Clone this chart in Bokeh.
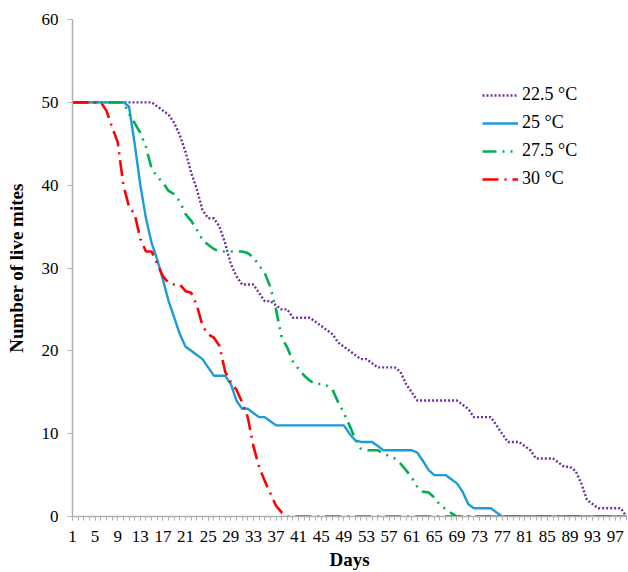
from bokeh.plotting import figure
from bokeh.models import Range1d, FixedTicker, Legend, LegendItem
from bokeh.embed import file_html
from bokeh.resources import INLINE

days = list(range(1, 100))
tick_labels = list(range(1, 98, 4))

t225 = ([50] * 15 +
        [49.5, 49, 48.5, 47.5, 46, 44, 41.5, 39.5, 37, 36, 36, 35, 33, 30.5, 29, 28, 28, 28,
         27, 26, 26, 25.5, 25, 25, 24, 24, 24, 24, 23.5, 23, 22.5, 22, 21, 20.5, 20, 19.5,
         19, 19, 18.5, 18, 18, 18, 18, 17.5, 16, 15] +
        [14] * 8 +
        [13.5, 13, 12, 12, 12, 12, 11, 10, 9, 9, 9, 8.5, 8, 7, 7, 7, 7, 6.5, 6, 6, 5.5, 4, 2, 1.5] +
        [1] * 5 + [0])

t25 = ([50] * 10 +
       [49.5, 45, 40, 36, 33, 31, 28.6, 26, 24, 22, 20.5, 20, 19.5, 19, 18, 17, 17, 17, 16, 14,
        13, 13, 12.5, 12, 12, 11.5] +
       [11] * 13 +
       [10, 9.2, 9, 9, 9, 8.5] +
       [8] * 6 +
       [7.7, 6.7, 5.6, 5, 5, 5, 4.5, 4, 3, 1.5] +
       [1] * 4 + [0.5] + [0] * 23)

t275 = ([50] * 10 +
        [48.6, 47.5, 46.3, 44.6, 42, 41, 40.3, 39.3, 38.9, 38, 36.5, 35.7, 34.6, 33.4, 32.8, 32.3] +
        [32] * 5 +
        [31.8, 31.3, 30.3, 29.4, 27.7, 25, 21.6, 20.4, 18.7, 17.8, 17, 16.4, 16, 16, 15.8, 15.3,
         13.8, 12.5, 11, 9.4, 8.2] +
        [8] * 3 +
        [7.6, 7.3, 7, 6.4, 5.6, 4.7, 3.6, 3, 2.9, 2.3, 1.4, 0.9, 0.4] +
        [0] * 31)

t30 = ([50] * 6 +
       [49, 47, 45.2, 40, 37.4, 36.5, 33.5, 32, 32, 30.5, 29, 28.2, 28, 28, 27.2, 27, 25.5, 23,
        22, 21.6, 20.6, 17.5, 16.2, 15.3, 13.8, 12, 8.5, 6, 4.3, 2.8, 1.3, 0.5] +
       [0] * 61)

series_names = ["22.5 °C", "25 °C", "27.5 °C", "30 °C"]
series_vals = [t225, t25, t275, t30]
colors = ["#7030A0", "#1C9BD9", "#00B050", "#FF0000"]
dashes = ["2 2", "solid", "14 6 2 6 2 6", "16 6 2 6"]
widths = [2.4, 2.4, 2.6, 2.6]

SERIF = "Liberation Serif"

p = figure(width=628, height=572, output_backend="svg", toolbar_location=None,
           x_range=Range1d(1, 99), y_range=Range1d(0, 60),
           min_border_left=72, min_border_right=2, min_border_top=19, min_border_bottom=54)
p.outline_line_color = None
p.xgrid.grid_line_color = None
p.ygrid.grid_line_color = None
p.background_fill_color = "white"
p.border_fill_color = "white"

items = []
for name, vals, c, d, w in zip(series_names, series_vals, colors, dashes, widths):
    r = p.line(days, vals, line_color=c, line_width=w, line_dash=d)
    items.append(LegendItem(label=name, renderers=[r]))

legend = Legend(items=items, location=(410, 327), glyph_width=36, glyph_height=20,
                label_height=20, spacing=7, padding=0, margin=0, label_standoff=4,
                label_text_font=SERIF, label_text_font_size="18px", label_text_color="black",
                border_line_color=None, background_fill_alpha=0)
p.add_layout(legend)

axis_color = "#AFAFAF"
xa = p.xaxis[0]
xa.ticker = FixedTicker(ticks=tick_labels, minor_ticks=days)
xa.axis_line_color = axis_color
xa.axis_line_width = 1.5
xa.major_tick_line_color = axis_color
xa.minor_tick_line_color = axis_color
xa.major_tick_out = 4
xa.major_tick_in = 0
xa.minor_tick_out = 4
xa.minor_tick_in = 0
xa.major_label_standoff = 10
xa.major_label_text_font = SERIF
xa.major_label_text_font_size = "17px"
xa.major_label_text_color = "black"
xa.axis_label = "Days"
xa.axis_label_text_font = SERIF
xa.axis_label_text_font_style = "bold"
xa.axis_label_text_font_size = "19px"
xa.axis_label_text_color = "black"
xa.axis_label_standoff = 4

ya = p.yaxis[0]
ya.ticker = FixedTicker(ticks=[0, 10, 20, 30, 40, 50, 60], minor_ticks=[])
ya.axis_line_color = axis_color
ya.axis_line_width = 1.5
ya.major_tick_line_color = axis_color
ya.major_tick_out = 5
ya.major_tick_in = 0
ya.minor_tick_line_color = None
ya.major_label_standoff = 9
ya.major_label_text_font = SERIF
ya.major_label_text_font_size = "17px"
ya.major_label_text_color = "black"
ya.axis_label = "Number of live mites"
ya.axis_label_text_font = SERIF
ya.axis_label_text_font_style = "bold"
ya.axis_label_text_font_size = "19px"
ya.axis_label_text_color = "black"
ya.axis_label_standoff = 12

open("out.html", "w").write(file_html(p, INLINE))
